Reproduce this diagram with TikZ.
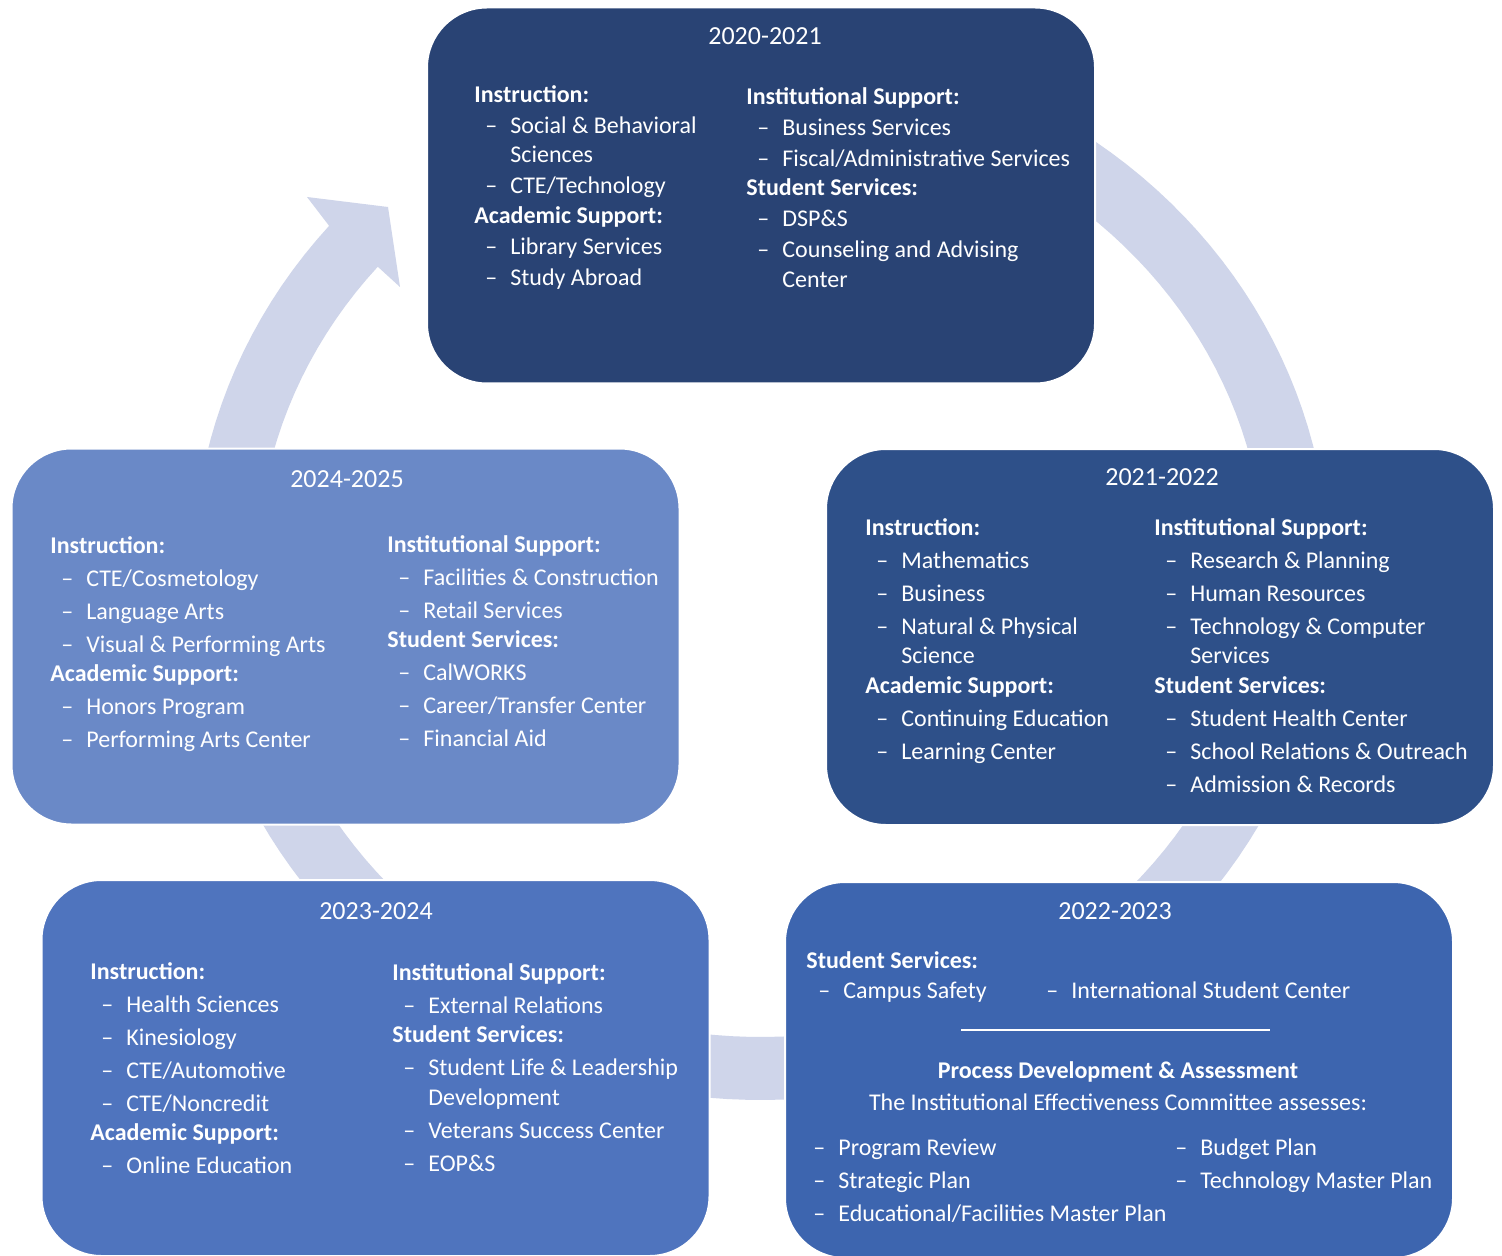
\documentclass[tikz,border=0pt]{standalone}
\usepackage{fontspec}
\setmainfont{Carlito}

\definecolor{ringblue}{HTML}{CFD5EA}
\definecolor{yearA}{HTML}{294374}
\definecolor{yearB}{HTML}{2E5089}
\definecolor{yearC}{HTML}{3D65AF}
\definecolor{yearD}{HTML}{4F74BE}
\definecolor{yearE}{HTML}{6A89C7}

\newcommand{\itm}[1]{\makebox[18pt][l]{\hspace{5.5pt}\textendash}#1}
\newcommand{\wrp}[1]{\hspace*{18pt}#1}
\newcommand{\topgap}{0.75pt}
\newcommand{\itemgap}{1.75pt}

\tikzset{
  yearbox/.style={draw=white, line width=1pt, rounded corners=30pt,
    minimum width=334pt, minimum height=188pt, inner sep=0pt},
  yeartitle/.style={text=white, font=\fontsize{13}{15}\selectfont,
    anchor=base, inner sep=0pt},
  column/.style={text=white, font=\fontsize{12}{14.75}\selectfont,
    align=left, anchor=north west, inner sep=0pt},
  textline/.style={text=white, font=\fontsize{12}{14.75}\selectfont,
    inner sep=0pt}
}

\begin{document}
\begin{tikzpicture}[x=0.5pt, y=-0.5pt]
\useasboundingbox (0,0) rectangle (1502,1256);
\fill[white] (0,0) rectangle (1502,1256);

\fill[ringblue] plot[domain=0:280.5, samples=140] ({761+568*cos(60-\x)},{570-530*sin(60-\x)})
  -- (307,197) -- (388,207) -- (400,287)
  -- plot[domain=0:280.5, samples=140] ({761+504*cos(\x-220.5)},{570-467*sin(\x-220.5)})
  -- cycle;

\node[yearbox, fill=yearA] (box2020) at (761,195.5) {};
\node[yearbox, fill=yearB] (box2021) at (1160,637) {};
\node[yearbox, fill=yearC] (box2022) at (1119,1070) {};
\node[yearbox, fill=yearD] (box2023) at (375.5,1068) {};
\node[yearbox, fill=yearE] (box2024) at (345.5,636.5) {};

\node[yeartitle] (title2020) at (765,45) {2020-2021};
\node[yeartitle] (title2021) at (1162,485) {2021-2022};
\node[yeartitle] (title2022) at (1115,919) {2022-2023};
\node[yeartitle] (title2023) at (376,919) {2023-2024};
\node[yeartitle] (title2024) at (347,487) {2024-2025};

\node[column] (left2020) at (474,81) {\strut\textbf{Instruction:}\\[\topgap]
  \itm{Social \& Behavioral}\\ \wrp{Sciences}\\[\topgap]
  \itm{CTE/Technology}\\
  \textbf{Academic Support:}\\[\topgap]
  \itm{Library Services}\\[\topgap]
  \itm{Study Abroad}};
\node[column] (right2020) at (746,83) {\strut\textbf{Institutional Support:}\\[\topgap]
  \itm{Business Services}\\[\topgap]
  \itm{Fiscal/Administrative Services}\\
  \textbf{Student Services:}\\[\topgap]
  \itm{DSP\&S}\\[\topgap]
  \itm{Counseling and Advising}\\ \wrp{Center}};

\node[column] (left2021) at (865,514) {\strut\textbf{Instruction:}\\[\itemgap]
  \itm{Mathematics}\\[\itemgap]
  \itm{Business}\\[\itemgap]
  \itm{Natural \& Physical}\\ \wrp{Science}\\
  \textbf{Academic Support:}\\[\itemgap]
  \itm{Continuing Education}\\[\itemgap]
  \itm{Learning Center}};
\node[column] (right2021) at (1154,514) {\strut\textbf{Institutional Support:}\\[\itemgap]
  \itm{Research \& Planning}\\[\itemgap]
  \itm{Human Resources}\\[\itemgap]
  \itm{Technology \& Computer}\\ \wrp{Services}\\
  \textbf{Student Services:}\\[\itemgap]
  \itm{Student Health Center}\\[\itemgap]
  \itm{School Relations \& Outreach}\\[\itemgap]
  \itm{Admission \& Records}};

\node[textline, anchor=base west] (head2022) at (806,968.5) {\textbf{Student Services:}};
\node[textline, anchor=base west] (safety2022) at (807,998.5) {\itm{Campus Safety}};
\node[textline, anchor=base west] (intl2022) at (1035,998.5) {\itm{International Student Center}};
\coordinate (ruleA) at (961,1030);
\coordinate (ruleB) at (1270,1030);
\draw[white, line width=1pt] (ruleA) -- (ruleB);
\node[textline, anchor=base] (process2022) at (1118,1078.5) {\textbf{Process Development \& Assessment}};
\node[textline, anchor=base] (iec2022) at (1118,1110.5) {The Institutional Effectiveness Committee assesses:};
\node[column] (plansA2022) at (802,1134) {\strut\itm{Program Review}\\[\itemgap]
  \itm{Strategic Plan}\\[\itemgap]
  \itm{Educational/Facilities Master Plan}};
\node[column] (plansB2022) at (1164,1134) {\strut\itm{Budget Plan}\\[\itemgap]
  \itm{Technology Master Plan}};

\node[column] (left2023) at (90,958) {\strut\textbf{Instruction:}\\[\itemgap]
  \itm{Health Sciences}\\[\itemgap]
  \itm{Kinesiology}\\[\itemgap]
  \itm{CTE/Automotive}\\[\itemgap]
  \itm{CTE/Noncredit}\\
  \textbf{Academic Support:}\\[\itemgap]
  \itm{Online Education}};
\node[column] (right2023) at (392,959) {\strut\textbf{Institutional Support:}\\[\itemgap]
  \itm{External Relations}\\
  \textbf{Student Services:}\\[\itemgap]
  \itm{Student Life \& Leadership}\\ \wrp{Development}\\[\itemgap]
  \itm{Veterans Success Center}\\[\itemgap]
  \itm{EOP\&S}};

\node[column] (left2024) at (50,532) {\strut\textbf{Instruction:}\\[\itemgap]
  \itm{CTE/Cosmetology}\\[\itemgap]
  \itm{Language Arts}\\[\itemgap]
  \itm{Visual \& Performing Arts}\\
  \textbf{Academic Support:}\\[\itemgap]
  \itm{Honors Program}\\[\itemgap]
  \itm{Performing Arts Center}};
\node[column] (right2024) at (387,531) {\strut\textbf{Institutional Support:}\\[\itemgap]
  \itm{Facilities \& Construction}\\[\itemgap]
  \itm{Retail Services}\\
  \textbf{Student Services:}\\[\itemgap]
  \itm{CalWORKS}\\[\itemgap]
  \itm{Career/Transfer Center}\\[\itemgap]
  \itm{Financial Aid}};
\end{tikzpicture}
\end{document}
